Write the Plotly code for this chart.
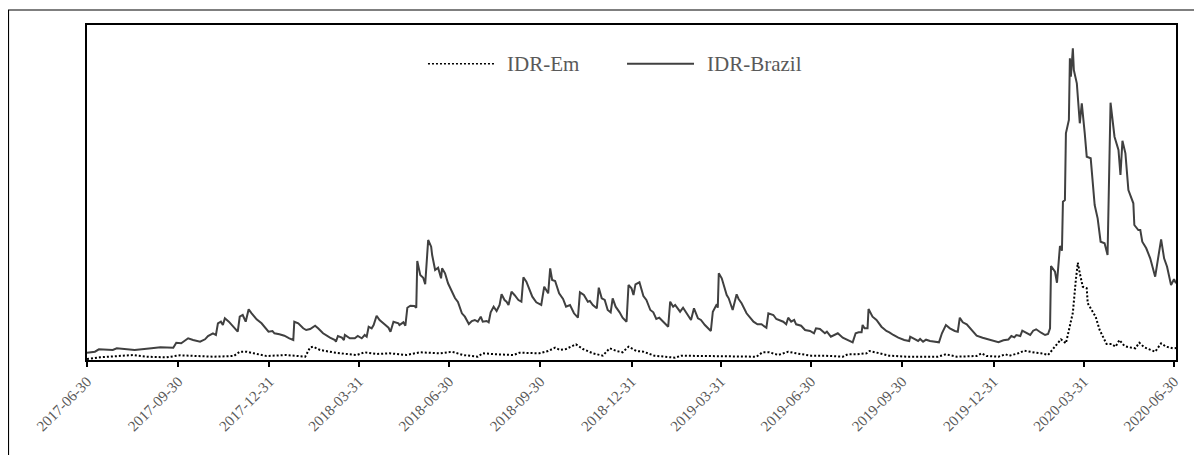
import pandas as pd
import plotly.graph_objects as go

start = pd.Timestamp("2017-06-30")

series_names = ["IDR-Em", "IDR-Brazil"]

# IDR-Brazil: day offset from 2017-06-30 and index value
brazil_day = [0, 8, 12, 26, 30, 48, 65, 74, 87, 90, 95, 99, 102, 107, 114, 119, 122, 127, 130, 132,
              135, 137, 139, 143, 148, 152, 154, 157, 160, 163, 166, 171, 176, 183, 187, 189, 194, 199, 204, 208,
              209, 213, 218, 221, 225, 230, 233, 238, 245, 250, 251, 253, 257, 259, 260, 265, 270, 273, 277, 280,
              282, 284, 287, 289, 292, 295, 300, 304, 306, 309, 314, 315, 319, 321, 323, 326, 330, 332, 333, 336,
              339, 341, 344, 347, 348, 351, 354, 357, 358, 361, 364, 367, 371, 374, 378, 381, 385, 388, 391, 394,
              397, 399, 403, 405, 407, 410, 413, 416, 418, 421, 423, 425, 428, 431, 435, 438, 440, 443, 446, 449,
              453, 456, 458, 461, 465, 467, 469, 472, 476, 480, 483, 487, 491, 495, 497, 501, 505, 507, 510, 514,
              516, 519, 522, 525, 528, 530, 533, 537, 540, 544, 546, 549, 551, 553, 557, 561, 564, 568, 571, 574,
              577, 581, 586, 588, 591, 593, 598, 601, 605, 609, 612, 616, 619, 623, 629, 631, 635, 636, 637, 640,
              645, 647, 651, 655, 657, 660, 665, 668, 672, 676, 680, 685, 687, 692, 695, 702, 705, 707, 710, 713,
              715, 720, 724, 729, 733, 735, 739, 744, 746, 750, 754, 757, 762, 767, 772, 775, 778, 781, 782, 784,
              787, 788, 792, 796, 801, 806, 809, 813, 818, 824, 829, 830, 835, 838, 840, 843, 846, 850, 859, 862,
              866, 870, 875, 878, 880, 883, 887, 892, 897, 903, 908, 913, 919, 924, 929, 932, 935, 937, 941, 943,
              947, 951, 954, 957, 962, 966, 969, 971, 972, 976, 978, 981, 983, 984, 986, 987, 990, 991, 992, 994,
              995, 997, 998, 1001, 1003, 1006, 1008, 1012, 1016, 1019, 1022, 1026, 1029, 1032, 1036, 1040, 1042, 1044, 1047, 1050,
              1055, 1056, 1060, 1062, 1064, 1068, 1072, 1077, 1083, 1086, 1089, 1093, 1096, 1098]
brazil_val = [7.3, 8.3, 10.7, 10.0, 11.7, 10.0, 11.7, 12.7, 12.3, 17.3, 16.7, 20.0, 21.7, 20.0, 18.3, 20.7, 24.0, 26.7, 25.0, 36.7,
              38.3, 35.0, 41.7, 38.3, 33.3, 28.3, 43.3, 45.0, 38.3, 50.7, 46.7, 40.7, 36.7, 28.3, 29.0, 26.7, 25.7, 24.3, 21.7, 20.0,
              38.3, 36.7, 31.7, 30.0, 31.0, 34.3, 31.7, 26.7, 22.3, 20.0, 18.3, 24.0, 22.3, 20.0, 25.0, 21.7, 21.7, 24.0, 21.7, 25.0,
              23.3, 33.3, 31.7, 35.0, 44.3, 40.0, 35.7, 32.3, 28.3, 38.3, 36.7, 35.0, 37.7, 34.3, 52.3, 54.3, 54.0, 52.3, 99.0, 85.0,
              82.3, 75.7, 120.0, 113.3, 105.0, 90.0, 92.3, 81.7, 91.7, 86.7, 76.7, 70.0, 62.0, 58.0, 46.7, 43.3, 36.0, 39.0, 40.0, 38.3,
              43.3, 38.3, 39.0, 37.7, 47.7, 53.3, 49.0, 55.0, 65.7, 60.0, 58.3, 55.0, 68.3, 65.0, 60.0, 58.3, 82.7, 78.3, 71.7, 63.3,
              57.7, 55.7, 55.0, 73.3, 66.7, 91.7, 80.0, 79.0, 66.7, 61.0, 53.3, 55.0, 46.7, 42.3, 67.7, 65.0, 58.3, 59.0, 55.0, 51.7,
              72.3, 61.7, 60.0, 50.0, 47.7, 61.7, 53.3, 47.7, 42.3, 38.3, 75.0, 71.7, 65.0, 75.7, 77.7, 64.0, 60.0, 50.0, 47.7, 41.0,
              42.3, 38.3, 33.3, 58.3, 53.3, 55.0, 48.3, 52.3, 45.7, 40.0, 51.7, 41.7, 40.0, 35.0, 29.0, 48.3, 55.7, 52.3, 86.7, 81.7,
              65.0, 61.7, 50.0, 65.7, 61.0, 56.7, 46.7, 43.3, 38.3, 35.7, 35.7, 32.3, 46.7, 45.0, 41.0, 38.3, 35.7, 42.3, 38.3, 40.0,
              35.7, 34.3, 30.0, 29.0, 26.7, 31.7, 31.0, 26.7, 28.3, 23.3, 25.0, 26.7, 22.3, 20.0, 17.7, 26.7, 27.7, 27.7, 35.0, 31.7,
              31.7, 51.0, 43.3, 40.0, 33.3, 29.0, 27.7, 25.0, 22.3, 20.0, 19.0, 23.3, 21.0, 19.0, 21.0, 18.3, 20.3, 19.0, 17.7, 26.7,
              35.0, 31.7, 29.0, 28.3, 42.3, 37.7, 35.7, 30.0, 24.3, 22.3, 21.0, 20.0, 17.7, 19.7, 20.5, 24.0, 22.7, 25.0, 24.0, 29.3,
              27.3, 25.0, 29.3, 30.7, 27.3, 25.0, 26.0, 31.7, 94.0, 88.3, 77.3, 114.0, 109.3, 158.3, 160.0, 226.7, 240.0, 301.7, 283.3, 311.7,
              290.0, 280.0, 276.7, 236.7, 256.7, 226.7, 203.3, 201.7, 155.0, 141.7, 118.3, 116.7, 105.0, 257.3, 223.3, 210.0, 185.0, 219.3, 206.7, 170.0,
              156.7, 135.0, 130.0, 130.0, 118.3, 111.7, 101.7, 83.3, 120.7, 101.7, 93.3, 75.0, 80.7, 76.7]

# IDR-Em: day offset from 2017-06-30 and index value
em_day = [0, 13, 47, 60, 80, 94, 127, 148, 154, 161, 168, 181, 201, 220, 225, 228, 235, 248, 262, 272,
          280, 292, 305, 322, 336, 356, 368, 379, 394, 399, 413, 430, 436, 456, 465, 472, 477, 483, 493, 500,
          510, 520, 527, 534, 540, 546, 554, 561, 572, 593, 599, 623, 650, 675, 681, 688, 697, 707, 715, 730,
          744, 762, 767, 776, 786, 789, 799, 809, 826, 843, 858, 866, 877, 897, 902, 907, 919, 926, 930, 939,
          945, 956, 962, 969, 976, 982, 987, 992, 994, 997, 999, 1001, 1004, 1008, 1009, 1014, 1017, 1021, 1028, 1033,
          1037, 1041, 1046, 1051, 1057, 1061, 1066, 1077, 1083, 1088, 1095, 1098]
em_val = [1.0, 2.7, 5.0, 3.3, 2.7, 4.7, 3.3, 4.0, 8.3, 8.3, 6.7, 4.0, 5.0, 3.3, 12.7, 13.3, 10.0, 7.7, 6.0, 5.0,
          7.7, 6.0, 6.7, 5.0, 7.7, 6.7, 8.3, 5.0, 3.3, 6.7, 5.7, 5.0, 7.3, 6.7, 9.0, 12.3, 10.0, 11.0, 15.7, 11.0,
          6.7, 4.3, 11.7, 9.0, 7.7, 13.3, 9.0, 8.3, 4.3, 2.3, 4.3, 4.0, 3.0, 3.3, 7.7, 7.7, 5.0, 8.3, 6.7, 4.3,
          4.3, 3.3, 5.7, 5.7, 6.7, 9.0, 6.7, 4.3, 3.3, 3.3, 3.3, 5.7, 3.3, 4.0, 6.7, 4.0, 3.3, 5.7, 4.3, 6.7,
          9.3, 7.3, 6.7, 5.0, 13.3, 20.7, 16.7, 40.0, 47.3, 80.0, 97.3, 86.7, 73.3, 71.7, 56.7, 48.3, 43.3, 30.0, 16.0, 16.0,
          13.3, 20.0, 14.0, 12.7, 11.7, 17.3, 12.7, 8.3, 16.7, 13.3, 11.7, 12.0]

quarter_ticks = ["2017-06-30", "2017-09-30", "2017-12-31", "2018-03-31", "2018-06-30", "2018-09-30",
                 "2018-12-31", "2019-03-31", "2019-06-30", "2019-09-30", "2019-12-31", "2020-03-31",
                 "2020-06-30"]

brazil_dates = start + pd.to_timedelta(brazil_day, unit="D")
em_dates = start + pd.to_timedelta(em_day, unit="D")

FONT = "Liberation Serif"
GRAY = "#595959"

fig = go.Figure()
fig.add_trace(go.Scatter(x=em_dates, y=em_val, mode="lines", name=series_names[0],
                         line=dict(color="#000000", width=2, dash="2px,2px"), showlegend=False))
fig.add_trace(go.Scatter(x=brazil_dates, y=brazil_val, mode="lines", name=series_names[1],
                         line=dict(color="#404040", width=2), showlegend=False))

# legend drawn as samples + text
leg_y = 0.884
shapes = [
    dict(type="line", xref="paper", yref="paper", x0=0.3131, x1=0.3737, y0=leg_y, y1=leg_y,
         line=dict(color="#000000", width=1.5, dash="2px,2px")),
    dict(type="line", xref="paper", yref="paper", x0=0.4959, x1=0.5574, y0=leg_y, y1=leg_y,
         line=dict(color="#404040", width=2)),
    # outer chart border
    dict(type="rect", xref="paper", yref="paper", x0=-0.0721, x1=1.0230, y0=-0.35, y1=1.0448,
         line=dict(color="#000000", width=1.2), fillcolor="rgba(0,0,0,0)", layer="below"),
]
annotations = [
    dict(text=series_names[0], xref="paper", yref="paper", x=0.3838, y=leg_y, xanchor="left",
         yanchor="middle", showarrow=False, font=dict(family=FONT, size=21, color=GRAY)),
    dict(text=series_names[1], xref="paper", yref="paper", x=0.5675, y=leg_y, xanchor="left",
         yanchor="middle", showarrow=False, font=dict(family=FONT, size=21, color=GRAY)),
]

fig.update_layout(
    width=1194, height=447,
    margin=dict(l=79, r=26, t=17, b=95),
    paper_bgcolor="white", plot_bgcolor="white",
    font=dict(family=FONT, color=GRAY),
    shapes=shapes, annotations=annotations,
    showlegend=False,
)
fig.update_xaxes(
    type="date", range=["2017-06-30", "2020-07-02"],
    tickvals=quarter_ticks, tickformat="%Y-%m-%d", tickangle=-45,
    ticks="outside", ticklen=5, tickwidth=1.5, tickcolor="#000000",
    showline=True, linecolor="#000000", linewidth=2, mirror=True,
    showgrid=False, zeroline=False,
    tickfont=dict(family=FONT, size=15, color=GRAY),
)
fig.update_yaxes(
    range=[0, 335], showticklabels=False, ticks="",
    showline=True, linecolor="#000000", linewidth=2, mirror=True,
    showgrid=False, zeroline=False,
)

fig.write_html("out.html")
